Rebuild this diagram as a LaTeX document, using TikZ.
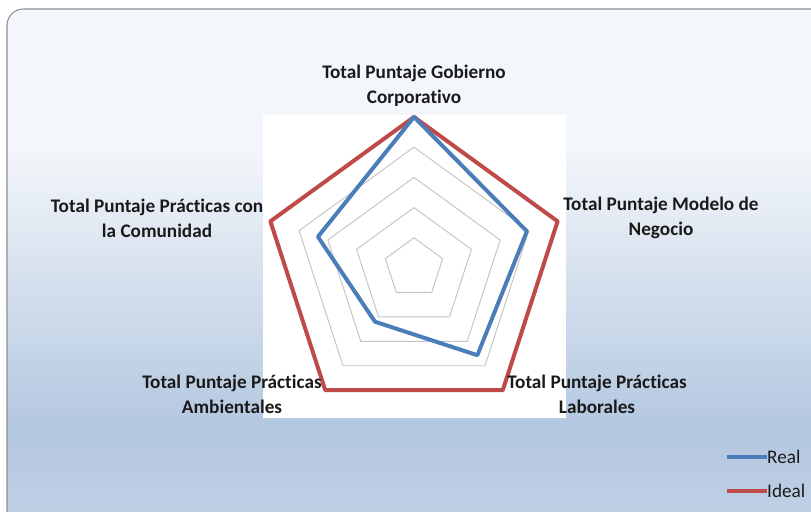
\documentclass[tikz,border=0pt]{standalone}
\usepackage{fontspec}
\setmainfont{Carlito}[Ligatures=CommonOff]
\usepackage{tikz}
\usetikzlibrary{positioning}
\definecolor{realblue}{HTML}{4A7EBB}
\definecolor{idealred}{HTML}{BE4B48}
\definecolor{gridgray}{HTML}{C4C4C4}
\definecolor{bgtop}{HTML}{F3F6FA}
\definecolor{bgmid}{HTML}{B3C7E0}
\definecolor{bgbottom}{HTML}{C3D3E7}
\definecolor{framegray}{HTML}{8E8E8E}
\definecolor{textgray}{HTML}{1A1A1A}

\begin{document}
\begin{tikzpicture}[x=0.03cm, y=-0.03cm,
    lbl/.style={align=center, inner sep=0pt, text=textgray, font=\fontsize{16.4}{21.3}\selectfont\bfseries},
    leyenda/.style={inner sep=0pt, text=textgray, font=\fontsize{16.4}{21.3}\selectfont},
    serie/.style={line width=3.4pt, line join=round}]
    \useasboundingbox (0,0) rectangle (811,512);
    \begin{scope}
        \clip (0,0) rectangle (811,512);
        \begin{scope}
            \clip[rounded corners=14] (7,9) rectangle (840,540);
            \fill[bgtop] (0,0) rectangle (811,150);
            \shade[top color=bgtop, bottom color=bgmid] (0,149.5) rectangle (811,430);
            \shade[top color=bgmid, bottom color=bgbottom] (0,429.5) rectangle (811,540);
        \end{scope}
        \draw[framegray, line width=0.9pt, rounded corners=14] (7,9) rectangle (840,540);
    \end{scope}
    \fill[white] (263,115) rectangle (566,418);
    \begin{scope}[shift={(414,268)}]
        \foreach \lvl in {1,...,5}
            \draw[gridgray, line width=0.8pt] (-90:30.2*\lvl) -- (-18:30.2*\lvl) -- (54:30.2*\lvl) -- (126:30.2*\lvl) -- (198:30.2*\lvl) -- cycle;
        \draw[idealred, serie] (-90:151) -- (-18:151) -- (54:151) -- (126:151) -- (198:151) -- cycle;
        \draw[realblue, serie] (-90:151) -- (-18:118.7) -- (54:107.8) -- (126:66.4) -- (198:101) -- cycle;
    \end{scope}
    \node[lbl] (gob) at (414,86) {Total Puntaje Gobierno\\Corporativo};
    \node[lbl] (mod) at (661,218) {Total Puntaje Modelo de\\Negocio};
    \node[lbl] (com) at (157,218) {Total Puntaje Prácticas con\\la Comunidad};
    \node[lbl] (amb) at (232,394) {Total Puntaje Prácticas\\Ambientales};
    \node[lbl] (lab) at (597,394) {Total Puntaje Prácticas\\Laborales};
    \node[leyenda, anchor=west] (real) at (767,457) {Real};
    \node[leyenda, anchor=west] (ideal) at (767,491) {Ideal};
    \coordinate (realstart) at (727,457);
    \coordinate (idealstart) at (727,491);
    \draw[realblue, serie] (realstart) -- (real.west);
    \draw[idealred, serie] (idealstart) -- (ideal.west);
\end{tikzpicture}
\end{document}
